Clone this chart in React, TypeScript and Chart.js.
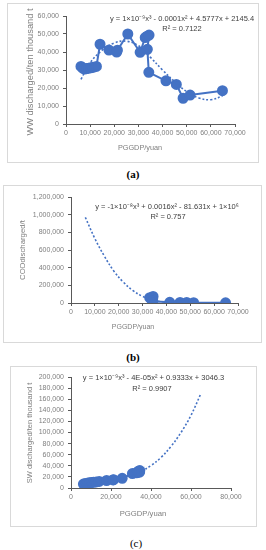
import React, { useEffect, useRef } from 'react';
import { Chart, registerables } from 'chart.js';

Chart.register(...registerables);

const BLUE = '#4472C4';
const FONT = '"Liberation Sans", Arial, sans-serif';

// ---------- (a) WW discharged ----------
const wwX = [6200, 6900, 7700, 8500, 9400, 10300, 11200, 12600, 14100, 17800, 21000, 21300, 25600, 30700, 32800, 33600, 34400, 33700, 34300, 41400, 45700, 48500, 51400, 64800];
const wwY = [32000, 31000, 30500, 30800, 31000, 31200, 31500, 32000, 44300, 41100, 40000, 41000, 50000, 39800, 48000, 48800, 49400, 41500, 28700, 24000, 22000, 14300, 16100, 18500];
const wwTrendX = [6200, 10000, 15000, 20000, 25000, 30000, 35000, 40000, 45000, 50000, 55000, 60000, 64800];
const wwTrendY = [24800, 34000, 41000, 45000, 46000, 43500, 37000, 30000, 23500, 18000, 14500, 13500, 15500];
const wwXTicks = [0, 70000, 10000];
const wwYTicks = [0, 60000, 10000];

// ---------- (b) COD discharged ----------
const codX = [33000, 34400, 33700, 34300, 41400, 45700, 48500, 51400, 64800];
const codY = [60000, 75000, 45000, 20000, 8000, 6000, 6000, 3000, 2000];
const codTrendX = [6000, 10000, 14000, 18000, 22000, 26000, 30000, 34000, 38000, 44000, 50000, 56000, 62000, 65000];
const codTrendY = [970000, 730000, 530000, 360000, 235000, 140000, 75000, 35000, 15000, 5000, 3000, 2000, 3000, 4000];
const codXTicks = [0, 70000, 10000];
const codYTicks = [0, 1200000, 200000];

// ---------- (c) SW discharged ----------
const swX = [6200, 6900, 7700, 8500, 9400, 10300, 11200, 12600, 14100, 17800, 21000, 21300, 25600, 30700, 32800, 33600, 34400, 33700, 34300];
const swY = [7000, 7500, 8200, 8800, 9300, 9800, 10300, 11000, 11800, 13500, 14500, 15000, 17500, 26000, 27500, 30000, 31500, 29000, 28500];
const swTrendX = [6200, 10000, 15000, 20000, 25000, 30000, 35000, 40000, 45000, 50000, 55000, 60000, 64800];
const swTrendY = [7000, 9500, 12000, 14500, 18000, 23000, 30000, 40500, 55000, 75000, 100000, 131000, 169000];
const swXTicks = [0, 80000, 20000];
const swYTicks = [0, 200000, 20000];

const fmt = (v: number) => Number(v).toLocaleString('en-US');

const textPlugin = {
  id: 'texts',
  afterDraw(chart: any, _args: any, opts: any) {
    const ctx = chart.ctx;
    for (const t of opts.items || []) {
      ctx.save();
      ctx.font = `${t.size}px ${FONT}`;
      ctx.fillStyle = t.color;
      ctx.textAlign = 'center';
      ctx.textBaseline = 'middle';
      ctx.translate(t.x, t.y);
      if (t.rot) ctx.rotate(-Math.PI / 2);
      ctx.fillText(t.text, 0, 0);
      ctx.restore();
    }
  },
};

type Panel = {
  box: { left: number; top: number; w: number; h: number };
  area: { left: number; top: number; right: number; bottom: number };
  xs: number[]; ys: number[]; tx: number[]; ty: number[];
  xt: number[]; yt: number[];
  texts: any[];
};

function ChartPanel({ p }: { p: Panel }) {
  const ref = useRef<HTMLCanvasElement>(null);
  const cw = p.box.w - 2;
  const chh = p.box.h - 2;
  useEffect(() => {
    if (!ref.current) return;
    const pts = p.xs.map((x, i) => ({ x, y: p.ys[i] }));
    const trend = p.tx.map((x, i) => ({ x, y: p.ty[i] }));
    const tickFont = { size: 7, family: FONT };
    const chart = new Chart(ref.current, {
      type: 'scatter',
      data: {
        datasets: [
          {
            data: trend, showLine: true, borderColor: BLUE, borderWidth: 1.6,
            borderDash: [2, 2], pointRadius: 0, tension: 0.4, fill: false,
          } as any,
          {
            data: pts, showLine: true, borderColor: BLUE, borderWidth: 2,
            pointRadius: 4.5, pointBackgroundColor: BLUE, pointBorderColor: BLUE, tension: 0,
          } as any,
        ],
      },
      options: {
        animation: false,
        responsive: false,
        devicePixelRatio: 1,
        layout: { padding: { left: 0, top: p.area.top, right: cw - p.area.right, bottom: 0 } },
        plugins: {
          legend: { display: false },
          tooltip: { enabled: false },
          texts: { items: p.texts },
        } as any,
        scales: {
          x: {
            type: 'linear', min: p.xt[0], max: p.xt[1],
            ticks: { stepSize: p.xt[2], font: tickFont, color: '#7f7f7f', padding: 2, maxRotation: 0, autoSkip: false, callback: (v: any) => fmt(v) },
            grid: { drawOnChartArea: false, drawTicks: true, tickLength: 3, color: '#595959' },
            border: { color: '#595959', width: 1 },
            afterFit: (s: any) => { s.height = chh - p.area.bottom; },
          },
          y: {
            type: 'linear', min: p.yt[0], max: p.yt[1],
            ticks: { stepSize: p.yt[2], font: tickFont, color: '#7f7f7f', padding: 4, autoSkip: false, callback: (v: any) => fmt(v) },
            grid: { drawOnChartArea: false, drawTicks: true, tickLength: 3, color: '#595959' },
            border: { color: '#595959', width: 1 },
            afterFit: (s: any) => { s.width = p.area.left; },
          },
        } as any,
      },
      plugins: [textPlugin as any],
    });
    return () => chart.destroy();
  }, []);
  return (
    <div style={{ position: 'absolute', left: p.box.left, top: p.box.top, width: p.box.w, height: p.box.h, border: '1px solid #d9d9d9', boxSizing: 'border-box', background: '#fff' }}>
      <canvas ref={ref} width={cw} height={chh} style={{ display: 'block', width: cw, height: chh }} />
    </div>
  );
}

const EQ = '#404040';
const TT = '#7f7f7f';

const panelA: Panel = {
  box: { left: 7, top: 3, w: 252, h: 160 },
  area: { left: 58, top: 12, right: 227, bottom: 120 },
  xs: wwX, ys: wwY, tx: wwTrendX, ty: wwTrendY, xt: wwXTicks, yt: wwYTicks,
  texts: [
    { text: 'y = 1×10⁻⁹x³ - 0.0001x² + 4.5777x + 2145.4', x: 174, y: 14.5, size: 7.5, color: EQ },
    { text: 'R² = 0.7122', x: 174, y: 24.5, size: 7.5, color: EQ },
    { text: 'PGGDP/yuan', x: 132, y: 144, size: 7.3, color: TT },
    { text: 'WW discharged/ten thousand t', x: 22, y: 68, size: 9.3, color: TT, rot: true },
  ],
};

const panelB: Panel = {
  box: { left: 3, top: 185, w: 259, h: 158 },
  area: { left: 67, top: 11, right: 234, bottom: 117 },
  xs: codX, ys: codY, tx: codTrendX, ty: codTrendY, xt: codXTicks, yt: codYTicks,
  texts: [
    { text: 'y = -1×10⁻⁸x³ + 0.0016x² - 81.631x + 1×10⁶', x: 163, y: 21, size: 7.5, color: EQ },
    { text: 'R² = 0.757', x: 164, y: 31, size: 7.5, color: EQ },
    { text: 'PGGDP/yuan', x: 129, y: 141.5, size: 7, color: TT },
    { text: 'CODdischarged/t', x: 19, y: 64, size: 7.8, color: TT, rot: true },
  ],
};

const panelC: Panel = {
  box: { left: 10, top: 366, w: 247, h: 161 },
  area: { left: 60, top: 10, right: 220, bottom: 121 },
  xs: swX, ys: swY, tx: swTrendX, ty: swTrendY, xt: swXTicks, yt: swYTicks,
  texts: [
    { text: 'y = 1×10⁻⁹x³ - 4E-05x² + 0.9333x + 3046.3', x: 142.5, y: 10.5, size: 7.5, color: EQ },
    { text: 'R² = 0.9907', x: 141, y: 21.5, size: 7.5, color: EQ },
    { text: 'PGGDP/yuan', x: 132, y: 147, size: 7.7, color: TT },
    { text: 'SW discharged/ten thousand t', x: 19, y: 66, size: 7.5, color: TT, rot: true },
  ],
};

const capStyle = (top: number, bold: boolean): React.CSSProperties => ({
  position: 'absolute', left: 0, top, width: 266, textAlign: 'center',
  font: `${bold ? 'bold ' : ''}11px "Liberation Serif", serif`, lineHeight: '12px', color: '#000',
});

export default function App() {
  return (
    <div style={{ position: 'absolute', left: 0, top: 0, width: 266, height: 550, background: '#fff' }}>
      <ChartPanel p={panelA} />
      <div style={capStyle(168, true)}>(a)</div>
      <ChartPanel p={panelB} />
      <div style={capStyle(351, true)}>(b)</div>
      <ChartPanel p={panelC} />
      <div style={{ ...capStyle(537, false), left: 3 }}>(c)</div>
    </div>
  );
}
